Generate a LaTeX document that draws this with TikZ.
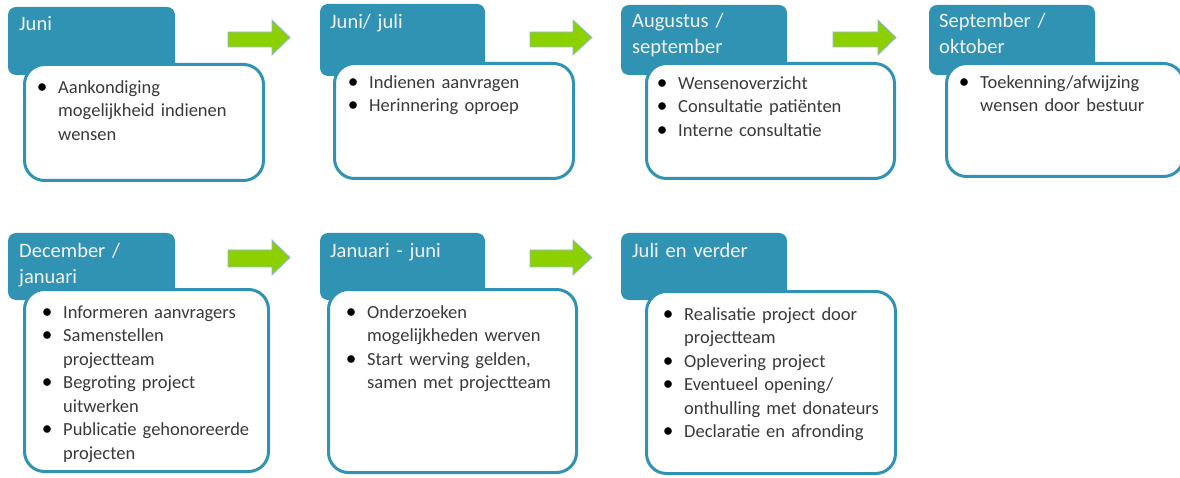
\documentclass[tikz,border=0pt]{standalone}
\usepackage{fontspec}
\setmainfont{Carlito}
\definecolor{hdr}{HTML}{3193B3}
\definecolor{bodytxt}{HTML}{3A3A3A}
\definecolor{hdrtxt}{HTML}{F2F2F2}
\definecolor{arrfill}{HTML}{8CD000}
\definecolor{arrline}{HTML}{8FB8DE}
\newcommand\bitem[1]{{\noindent\hangindent=16pt\hangafter=1\rule{0pt}{16pt}\makebox[0pt]{\textcolor{black}{\scalebox{1.15}{\textbullet}}}\hspace*{16pt}#1\par}}
% arrow: left x, head base x, tip x, shaft top, shaft bottom, head top, head bottom
\newcommand\flowarrow[7]{%
  \path[flowarr] (#1,#4) -- (#2,#4) -- (#2,#6) -- (#3,{(#6+#7)/2}) -- (#2,#7) -- (#2,#5) -- (#1,#5) -- cycle;}
\begin{document}
\begin{tikzpicture}[x=1pt,y=-1pt,
  hdrbox/.style={fill=hdr,draw=none,rounded corners=8pt},
  listbox/.style={fill=white,draw=hdr,line width=3pt,rounded corners=20pt},
  hdrtext/.style={anchor=north west,inner sep=0pt,text width=170pt,text=hdrtxt,
    font=\fontsize{20.5}{26}\selectfont},
  listtext/.style={anchor=north west,inner sep=0pt,text width=320pt,text=bodytxt,
    font=\fontsize{18.5}{23.5}\selectfont},
  flowarr/.style={fill=arrfill,draw=arrline,line width=0.8pt,line join=miter}]
\useasboundingbox (0,0) rectangle (1180,478);
\clip (0,0) rectangle (1180,478);
% headers
\path[hdrbox] (8,7) rectangle (175,75) coordinate (h1);
\path[hdrbox] (320,4) rectangle (485,76) coordinate (h2);
\path[hdrbox] (621,5) rectangle (787,75) coordinate (h3);
\path[hdrbox] (929,5) rectangle (1095,75) coordinate (h4);
\path[hdrbox] (8,233) rectangle (175,300) coordinate (h5);
\path[hdrbox] (320,233) rectangle (485,300) coordinate (h6);
\path[hdrbox] (621,233) rectangle (787,300) coordinate (h7);
% list boxes
\path[listbox] (24.5,64.5) rectangle (263.5,180.5) coordinate (b1);
\path[listbox] (334.5,63.5) rectangle (573.5,178.5) coordinate (b2);
\path[listbox] (646.5,63.5) rectangle (894.5,178.5) coordinate (b3);
\path[listbox] (946.5,63.5) rectangle (1183.5,176.5) coordinate (b4);
\path[listbox] (24.5,289.5) rectangle (268.5,471.5) coordinate (b5);
\path[listbox] (328.5,289.5) rectangle (576.5,472.5) coordinate (b6);
\path[listbox] (646.5,291.5) rectangle (895.5,473.5) coordinate (b7);
% arrows
\flowarrow{228}{272}{290}{32}{47}{20}{55}
\flowarrow{530}{573}{592}{32}{47}{20}{55}
\flowarrow{833}{878}{896}{32}{47}{20}{55}
\flowarrow{228}{272}{290}{250}{267}{240}{275}
\flowarrow{530}{573}{592}{250}{267}{240}{275}
% header texts (first baseline = y + 18)
\node[hdrtext] (t1) at (19,12) {\rule{0pt}{18pt}Juni};
\node[hdrtext] (t2) at (330,10) {\rule{0pt}{18pt}Juni/ juli};
\node[hdrtext] (t3) at (632,9) {\rule{0pt}{18pt}Augustus /\newline september};
\node[hdrtext] (t4) at (939,9) {\rule{0pt}{18pt}September /\newline oktober};
\node[hdrtext] (t5) at (19,239) {\rule{0pt}{18pt}December /\newline januari};
\node[hdrtext] (t6) at (330,239) {\rule{0pt}{18pt}Januari - juni};
\node[hdrtext] (t7) at (632,239) {\rule{0pt}{18pt}Juli en verder};
% list texts (first baseline = y + 16)
\node[listtext] (l1) at (42,77) {\bitem{Aankondiging\newline mogelijkheid indienen\newline wensen}};
\node[listtext] (l2) at (353,72) {\bitem{Indienen aanvragen}\bitem{Herinnering oproep}};
\node[listtext] (l3) at (662,73) {\bitem{Wensenoverzicht}\bitem{Consultatie patiënten}\bitem{Interne consultatie}};
\node[listtext] (l4) at (964,72) {\bitem{Toekenning/afwijzing\newline wensen door bestuur}};
\node[listtext] (l5) at (47,302) {\bitem{Informeren aanvragers}\bitem{Samenstellen\newline projectteam}\bitem{Begroting project\newline uitwerken}\bitem{Publicatie gehonoreerde\newline projecten}};
\node[listtext] (l6) at (351,302) {\bitem{Onderzoeken\newline mogelijkheden werven}\bitem{Start werving gelden,\newline samen met projectteam}};
\node[listtext] (l7) at (668,304) {\bitem{Realisatie project door\newline projectteam}\bitem{Oplevering project}\bitem{Eventueel opening/\newline onthulling met donateurs}\bitem{Declaratie en afronding}};
\end{tikzpicture}
\end{document}
